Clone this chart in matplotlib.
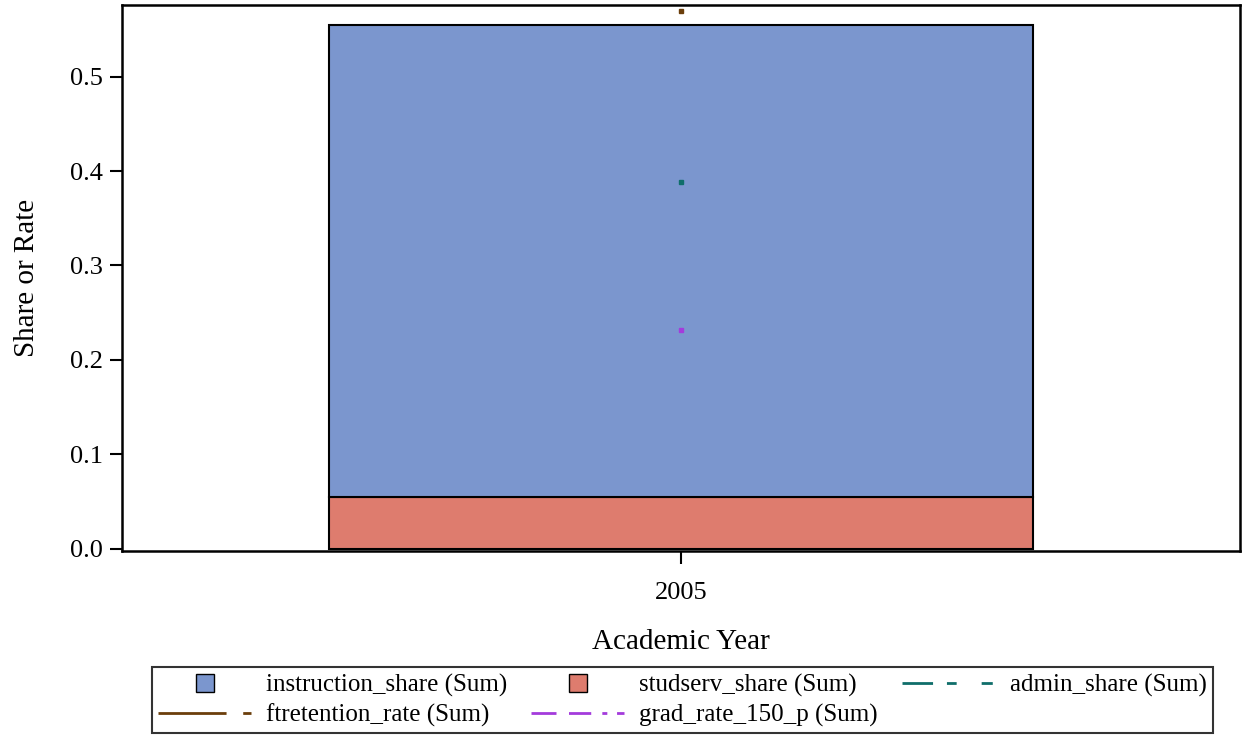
import matplotlib.pyplot as plt
from matplotlib.lines import Line2D

plt.rcParams['font.family'] = ['Liberation Serif', 'DejaVu Serif']
plt.rcParams['lines.scale_dashes'] = False

years = ['2005']
instruction_share = [0.500]
studserv_share = [0.055]
admin_share = [0.388]
ftretention_rate = [0.570]
grad_rate_150_p = [0.232]

c_instr = '#7B96CE'
c_stud = '#DE7C6E'
c_admin = '#0F6E6A'
c_ftret = '#6B3E0B'
c_grad = '#A43BDC'


def main() -> None:
    fig = plt.figure(figsize=(12.47, 7.41), dpi=100)
    ax = fig.add_axes([0.0978, 0.2564, 0.8966, 0.7369])

    x = list(range(len(years)))
    ax.bar(x, studserv_share, width=0.63, color=c_stud, edgecolor='black', linewidth=1.5, zorder=2)
    ax.bar(x, instruction_share, width=0.63, bottom=studserv_share, color=c_instr,
           edgecolor='black', linewidth=1.5, zorder=2)

    # single-year line series show up as tiny points
    ax.plot(x, admin_share, marker='s', markersize=2.5, color=c_admin, linestyle='none', zorder=3)
    ax.plot(x, ftretention_rate, marker='s', markersize=2.5, color=c_ftret, linestyle='none', zorder=3)
    ax.plot(x, grad_rate_150_p, marker='s', markersize=2.5, color=c_grad, linestyle='none', zorder=3)

    ax.set_xlim(-0.5, 0.5)
    ax.set_ylim(-0.0025, 0.576)
    ax.set_xticks(x)
    ax.set_xticklabels(years)
    ax.set_yticks([0.0, 0.1, 0.2, 0.3, 0.4, 0.5])
    ax.set_yticklabels(['0.0', '0.1', '0.2', '0.3', '0.4', '0.5'])
    ax.tick_params(axis='both', direction='out', length=9, width=1.5, labelsize=19, pad=5)
    ax.tick_params(axis='x', pad=13)
    for s in ax.spines.values():
        s.set_linewidth(1.8)

    ax.set_xlabel('Academic Year', fontsize=21, labelpad=18)
    ax.set_ylabel('Share or Rate', fontsize=21, labelpad=21)

    handles = [
        Line2D([], [], marker='s', markersize=13, markerfacecolor=c_instr, markeredgecolor='black',
               markeredgewidth=1, linestyle='none'),
        Line2D([], [], color=c_ftret, linewidth=2, dashes=(49, 12, 6, 200)),
        Line2D([], [], marker='s', markersize=13, markerfacecolor=c_stud, markeredgecolor='black',
               markeredgewidth=1, linestyle='none'),
        Line2D([], [], color=c_grad, linewidth=2, dashes=(18, 9, 16, 8, 3.6, 7, 6.5, 200)),
        Line2D([], [], color=c_admin, linewidth=2, dashes=(22, 10, 7, 18, 8, 200)),
    ]
    labels = ['instruction_share (Sum)', 'ftretention_rate (Sum)', 'studserv_share (Sum)',
              'grad_rate_150_p (Sum)', 'admin_share (Sum)']
    leg = fig.legend(handles, labels, ncol=3, loc='center', bbox_to_anchor=(0.5473, 0.0547),
                     fontsize=18, frameon=True, fancybox=False, handlelength=3.72,
                     handletextpad=0.6, columnspacing=0.96, labelspacing=0.28,
                     borderpad=0.25, borderaxespad=0)
    leg.get_frame().set_edgecolor('black')
    leg.get_frame().set_linewidth(1.5)

    fig.savefig('out.png', dpi=100)


if __name__ == "__main__":
    main()
